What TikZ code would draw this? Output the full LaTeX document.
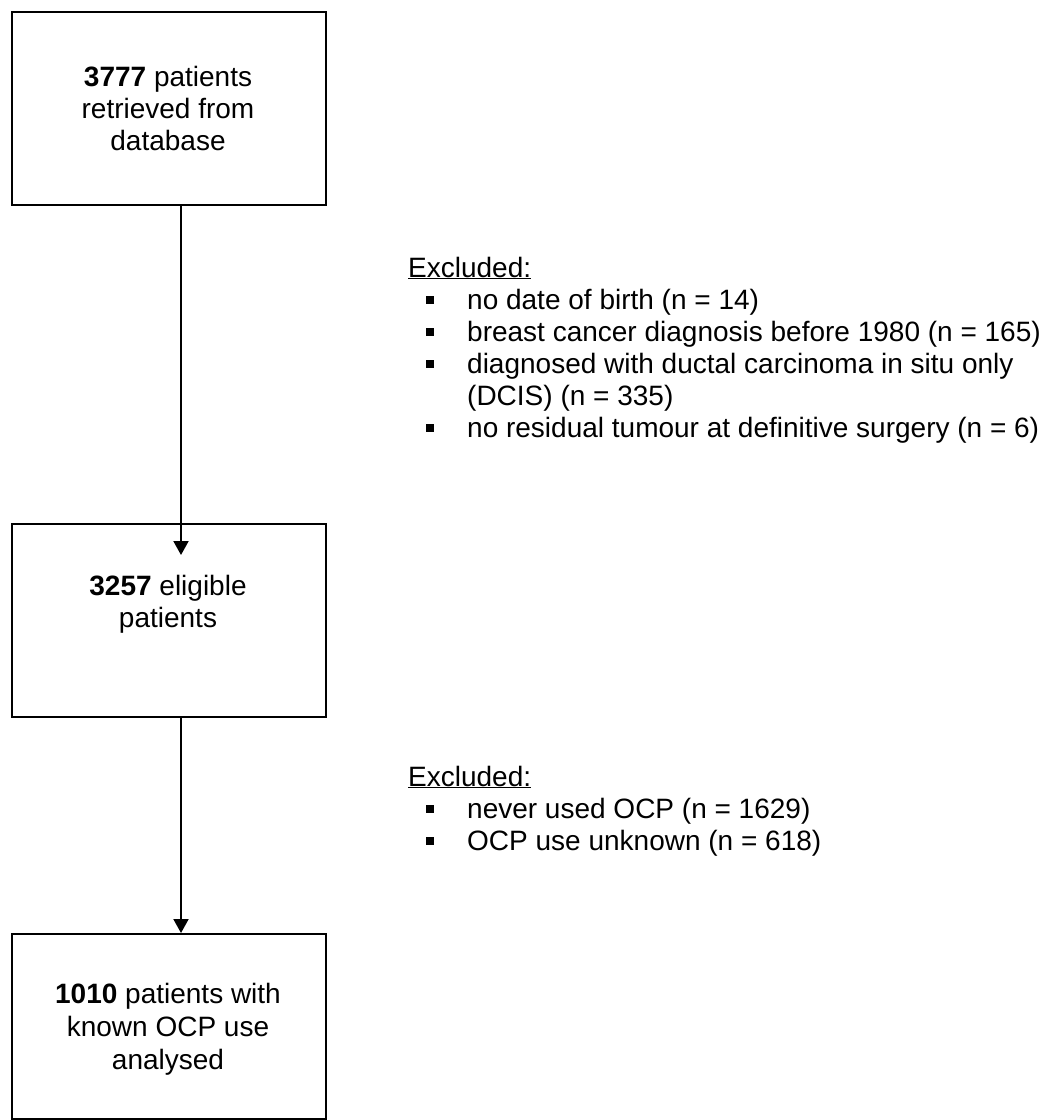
\documentclass[tikz,border=0pt]{standalone}
\usepackage{fontspec}
\setmainfont{Liberation Sans}
\usetikzlibrary{arrows.meta}
\begin{document}
\begin{tikzpicture}[x=1pt,y=-1pt,
  box/.style={draw=black, line width=2pt, minimum width=314pt, minimum height=193pt, inner sep=0pt, anchor=north west},
  txt/.style={font=\fontsize{28}{32}\selectfont, inner sep=0pt, anchor=base},
  ltxt/.style={font=\fontsize{28}{32}\selectfont, inner sep=0pt, anchor=base west},
  bul/.style={fill=black, minimum size=8pt, inner sep=0pt},
  arr/.style={line width=2pt, -{Triangle[width=15pt,length=14pt]}}]
\useasboundingbox (0,0) rectangle (1049,1120);
% boxes
\node[box] (b1) at (11,11) {};
\node[box] (b2) at (11,523) {};
\node[box, minimum height=185pt] (b3) at (11,933) {};
% box texts
\node[txt] (t1a) at (168,86) {\textbf{3777} patients};
\node[txt] (t1b) at (168,118) {retrieved from};
\node[txt] (t1c) at (168,150) {database};
\node[txt] (t2a) at (168,595) {\textbf{3257} eligible};
\node[txt] (t2b) at (168,627) {patients};
\node[txt] (t3a) at (168,1003) {\textbf{1010} patients with};
\node[txt] (t3b) at (168,1036) {known OCP use};
\node[txt] (t3c) at (168,1069) {analysed};
% arrows
\draw[arr] ([xshift=12pt]b1.south) -- ([xshift=12pt,yshift=-32pt]b2.north);
\draw[arr] ([xshift=12pt]b2.south) -- ([xshift=12pt]b3.north);
% exclusion block 1
\node[ltxt] (e1) at (408,277) {\underline{Excluded:}};
\node[bul] (e1b1) at (430,300) {};
\node[ltxt] (e1i1) at (467,309) {no date of birth (n = 14)};
\node[bul] (e1b2) at (430,332) {};
\node[ltxt] (e1i2) at (467,341) {breast cancer diagnosis before 1980 (n = 165)};
\node[bul] (e1b3) at (430,364) {};
\node[ltxt] (e1i3) at (467,373) {diagnosed with ductal carcinoma in situ only};
\node[ltxt] (e1i3b) at (467,405) {(DCIS) (n = 335)};
\node[bul] (e1b4) at (430,428) {};
\node[ltxt] (e1i4) at (467,437) {no residual tumour at definitive surgery (n = 6)};
% exclusion block 2
\node[ltxt] (e2) at (408,786) {\underline{Excluded:}};
\node[bul] (e2b1) at (430,809) {};
\node[ltxt] (e2i1) at (467,818) {never used OCP (n = 1629)};
\node[bul] (e2b2) at (430,841) {};
\node[ltxt] (e2i2) at (467,850) {OCP use unknown (n = 618)};
\end{tikzpicture}
\end{document}
